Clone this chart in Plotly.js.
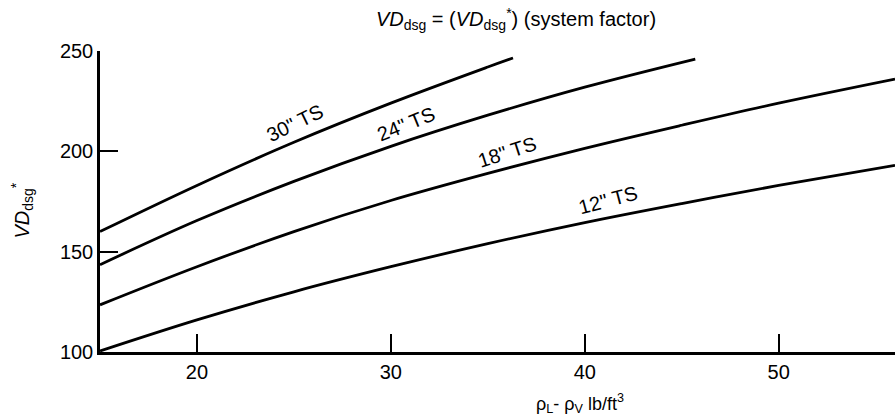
<!DOCTYPE html>
<html>
<head>
<meta charset="utf-8">
<script src="https://cdn.plot.ly/plotly-3.0.1.min.js"></script>
<style>html,body{margin:0;padding:0;background:#fff;}#chart{width:895px;height:419px;}</style>
</head>
<body>
<div id="chart"></div>
<script>
// Data
const seriesNames = ['30" TS', '24" TS', '18" TS', '12" TS'];
const x30 = [15, 20, 25, 30, 35, 36.3];
const y30 = [160, 183, 204.5, 224, 242, 246.5];
const x24 = [15, 20, 25, 30, 35, 40, 45.7];
const y24 = [143.5, 165.5, 185, 202.5, 218, 232, 246];
const x18 = [15, 20, 25, 30, 35, 40, 45, 50, 56];
const y18 = [123.5, 142.5, 160, 175.5, 189, 201.5, 213, 224, 236];
const x12 = [15, 20, 25, 30, 35, 40, 45, 50, 56];
const y12 = [100.5, 116, 130, 142.5, 154, 164.5, 174, 183, 193];
const xTicks = [20, 30, 40, 50];
const yTicks = [100, 150, 200, 250];

const FONT = 'Liberation Sans, Arial, Helvetica, sans-serif';
const xs = [x30, x24, x18, x12];
const ys = [y30, y24, y18, y12];

const traces = seriesNames.map((n, i) => ({
  x: xs[i], y: ys[i], name: n, mode: 'lines', type: 'scatter',
  line: {color: '#000', width: 2.8, shape: 'spline', smoothing: 1},
  hoverinfo: 'skip'
}));

// curve label placement (positions are layout, not data)
const labelPos = [
  {x: 25.05, y: 214.1, a: -26},
  {x: 30.8, y: 213.6, a: -22},
  {x: 36.0, y: 199.7, a: -18},
  {x: 41.2, y: 175.7, a: -15}
];
const annotations = seriesNames.map((n, i) => ({
  x: labelPos[i].x, y: labelPos[i].y, xref: 'x', yref: 'y',
  text: n, showarrow: false, textangle: labelPos[i].a,
  font: {family: FONT, size: 20, color: '#000'},
  xanchor: 'center', yanchor: 'middle'
}));

annotations.push({
  xref: 'paper', yref: 'paper', x: -0.098, y: 0.47,
  text: '<i>VD</i><sub>dsg</sub><sup>*</sup>', textangle: -90, showarrow: false,
  font: {family: FONT, size: 20, color: '#000'}, xanchor: 'center', yanchor: 'middle'
});
annotations.push({
  xref: 'paper', yref: 'paper', x: (580 - 100) / 795, y: -51 / 301,
  text: 'ρ<sub>L</sub>- ρ<sub>V</sub> lb/ft<sup>3</sup>', showarrow: false,
  font: {family: FONT, size: 18, color: '#000'}, xanchor: 'center', yanchor: 'middle'
});

const layout = {
  width: 895, height: 419,
  margin: {l: 100, r: 0, t: 51, b: 67},
  paper_bgcolor: '#fff', plot_bgcolor: '#fff',
  showlegend: false,
  title: {
    text: '<i>VD</i><sub>dsg</sub> = (<i>VD</i><sub>dsg</sub><sup>*</sup>) (system factor)',
    font: {family: FONT, size: 20, color: '#000'},
    xref: 'container', yref: 'container', x: 516 / 895, y: 1 - 19 / 419,
    xanchor: 'center', yanchor: 'middle'
  },
  xaxis: {
    range: [15, 56], tickvals: xTicks, ticktext: xTicks.map(String),
    ticks: 'inside', ticklen: 18, tickwidth: 2, tickcolor: '#000',
    showline: true, linecolor: '#000', linewidth: 2.5,
    showgrid: false, zeroline: false,
    tickfont: {family: FONT, size: 20, color: '#000'}
  },
  yaxis: {
    range: [100, 250], tickvals: yTicks, ticktext: yTicks.map(String),
    ticks: 'inside', ticklen: 18, tickwidth: 2, tickcolor: '#000',
    showline: true, linecolor: '#000', linewidth: 2.5,
    showgrid: false, zeroline: false,
    tickfont: {family: FONT, size: 20, color: '#000'}
  },
  annotations: annotations
};

Plotly.newPlot('chart', traces, layout, {displayModeBar: false});
</script>
</body>
</html>
